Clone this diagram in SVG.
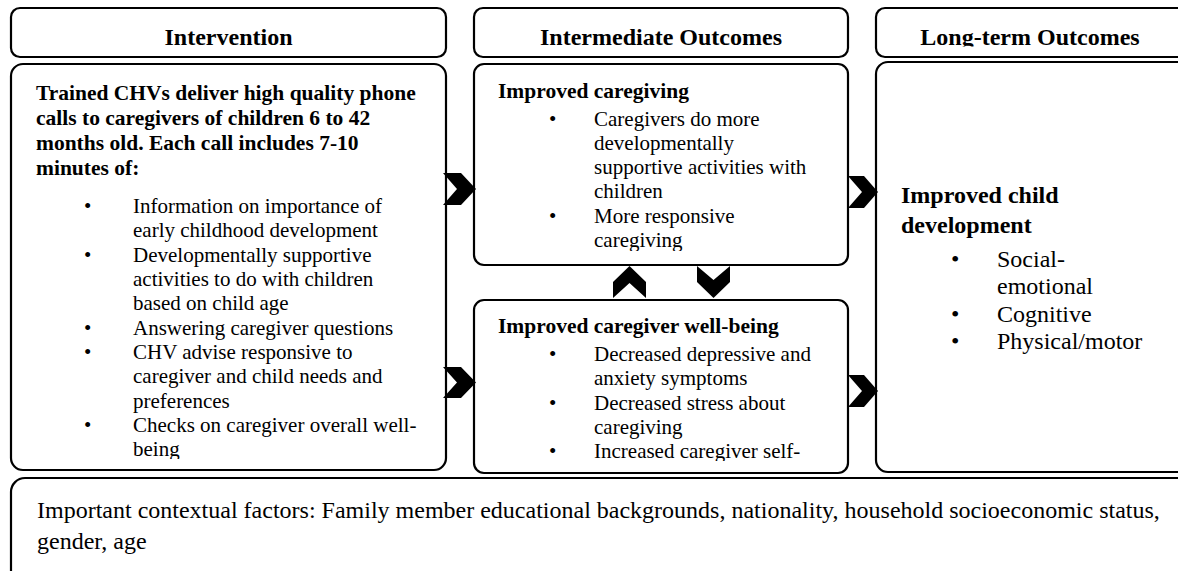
<svg xmlns="http://www.w3.org/2000/svg" width="1178" height="571" viewBox="0 0 1178 571">
<style>
.box{fill:#fff;stroke:#000;stroke-width:2.2}
.hd{font-family:"Liberation Serif","Times New Roman",serif;font-weight:bold;font-size:24px;text-anchor:middle;fill:#000}
.b{font-family:"Liberation Serif","Times New Roman",serif;font-weight:bold;font-size:21.5px;fill:#000}
.t{font-family:"Liberation Serif","Times New Roman",serif;font-size:21px;fill:#000}
.b2{font-family:"Liberation Serif","Times New Roman",serif;font-weight:bold;font-size:24px;fill:#000}
.t2{font-family:"Liberation Serif","Times New Roman",serif;font-size:24px;fill:#000}
.chev{fill:#000;stroke:none}
</style>
<defs>
<clipPath id="cpInt"><rect x="12" y="66" width="432" height="393"/></clipPath>
<clipPath id="cpCare"><rect x="476" y="66" width="370" height="185"/></clipPath>
<clipPath id="cpWell"><rect x="476" y="302" width="370" height="159"/></clipPath>
<clipPath id="cpLT"><rect x="876" y="8" width="310" height="38.5"/></clipPath>
</defs>
<rect width="1178" height="571" fill="#fff"/>

<g id="hdr-intervention">
<rect class="box" x="11" y="8" width="435" height="49" rx="9"/>
<text class="hd" x="228.5" y="45">Intervention</text>
</g>
<g id="hdr-intermediate">
<rect class="box" x="474" y="8" width="374" height="49" rx="9"/>
<text class="hd" x="661" y="45">Intermediate Outcomes</text>
</g>
<g id="hdr-longterm">
<rect class="box" x="876" y="8" width="320" height="49" rx="9"/>
<text class="hd" x="1030" y="45" clip-path="url(#cpLT)">Long-term Outcomes</text>
</g>

<g id="intervention">
<rect class="box" x="11" y="64" width="435" height="406" rx="12"/>
<g clip-path="url(#cpInt)">
<text class="b" x="36" y="100">Trained CHVs deliver high quality phone</text>
<text class="b" x="36" y="125">calls to caregivers of children 6 to 42</text>
<text class="b" x="36" y="150">months old. Each call includes 7-10</text>
<text class="b" x="36" y="175">minutes of:</text>
<text class="t" x="84" y="213">•</text><text class="t" x="133" y="213">Information on importance of</text>
<text class="t" x="133" y="237">early childhood development</text>
<text class="t" x="84" y="262">•</text><text class="t" x="133" y="262">Developmentally supportive</text>
<text class="t" x="133" y="286">activities to do with children</text>
<text class="t" x="133" y="310">based on child age</text>
<text class="t" x="84" y="335">•</text><text class="t" x="133" y="335">Answering caregiver questions</text>
<text class="t" x="84" y="359">•</text><text class="t" x="133" y="359">CHV advise responsive to</text>
<text class="t" x="133" y="383">caregiver and child needs and</text>
<text class="t" x="133" y="408">preferences</text>
<text class="t" x="84" y="432">•</text><text class="t" x="133" y="432">Checks on caregiver overall well-</text>
<text class="t" x="133" y="456">being</text>
</g>
</g>

<g id="improved-caregiving">
<rect class="box" x="474" y="64" width="374" height="201" rx="10"/>
<g clip-path="url(#cpCare)">
<text class="b" x="498" y="98">Improved caregiving</text>
<text class="t" x="549" y="126">•</text><text class="t" x="594" y="126">Caregivers do more</text>
<text class="t" x="594" y="150">developmentally</text>
<text class="t" x="594" y="174">supportive activities with</text>
<text class="t" x="594" y="198">children</text>
<text class="t" x="549" y="223">•</text><text class="t" x="594" y="223">More responsive</text>
<text class="t" x="594" y="247">caregiving</text>
</g>
</g>

<g id="caregiver-wellbeing">
<rect class="box" x="474" y="300" width="374" height="173" rx="10"/>
<g clip-path="url(#cpWell)">
<text class="b" x="498" y="333">Improved caregiver well-being</text>
<text class="t" x="549" y="361">•</text><text class="t" x="594" y="361">Decreased depressive and</text>
<text class="t" x="594" y="385">anxiety symptoms</text>
<text class="t" x="549" y="410">•</text><text class="t" x="594" y="410">Decreased stress about</text>
<text class="t" x="594" y="434">caregiving</text>
<text class="t" x="549" y="458">•</text><text class="t" x="594" y="458">Increased caregiver self-</text>
</g>
</g>

<g id="child-development">
<rect class="box" x="876" y="62" width="320" height="410" rx="12"/>
<text class="b2" x="901" y="203">Improved child</text>
<text class="b2" x="901" y="233">development</text>
<text class="t2" x="951" y="267">•</text><text class="t2" x="997" y="267">Social-</text>
<text class="t2" x="997" y="294">emotional</text>
<text class="t2" x="951" y="322">•</text><text class="t2" x="997" y="322">Cognitive</text>
<text class="t2" x="951" y="349">•</text><text class="t2" x="997" y="349">Physical/motor</text>
</g>

<g id="contextual-factors">
<rect class="box" x="11" y="478" width="1185" height="112" rx="14"/>
<text class="t2" x="37" y="518">Important contextual factors: Family member educational backgrounds, nationality, household socioeconomic status,</text>
<text class="t2" x="37" y="549">gender, age</text>
</g>

<g id="connectors">
<polygon class="chev" points="443,173 461,173 476,189 461,205 443,205 457,189"/>
<polygon class="chev" points="443,367 461,367 476,382.5 461,398 443,398 457,382.5"/>
<polygon class="chev" points="848,176 864,176 878,192 864,208 848,208 862,192"/>
<polygon class="chev" points="848,375 864,375 878,391 864,407 848,407 862,391"/>
<polygon class="chev" points="613,298 613,282 629.5,266 646,282 646,298 629.5,283"/>
<polygon class="chev" points="697,266 713.5,280 730,266 730,282 713.5,298 697,282"/>
</g>
</svg>
